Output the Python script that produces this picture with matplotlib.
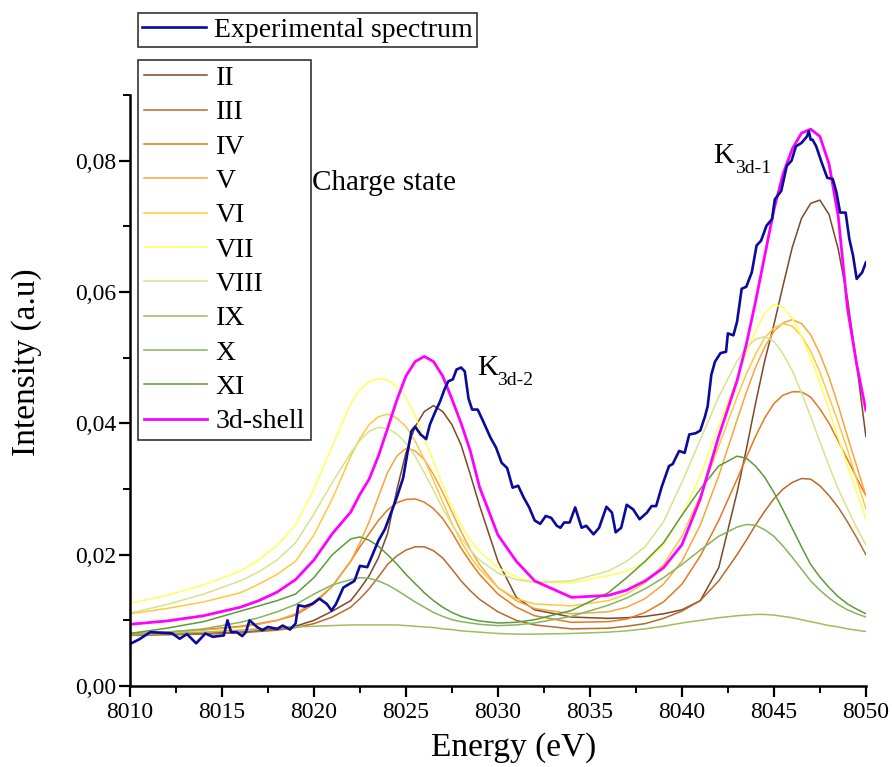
import matplotlib
matplotlib.use('Agg')
import matplotlib.pyplot as plt
from matplotlib.ticker import MultipleLocator, FuncFormatter

plt.rcParams['font.family'] = ['Liberation Serif', 'DejaVu Serif']

# energy grid used for the fitted charge-state curves (eV)
energy = [8010, 8012, 8014, 8016, 8017, 8018, 8019, 8020, 8021, 8022, 8022.5, 8023, 8023.5,
          8024, 8024.5, 8025, 8025.5, 8026, 8026.5, 8027, 8027.5, 8028, 8028.5, 8029, 8030,
          8031, 8032, 8034, 8036, 8037, 8038, 8039, 8040, 8041, 8042, 8043, 8043.5, 8044,
          8044.5, 8045, 8045.5, 8046, 8046.5, 8047, 8047.5, 8048, 8048.5, 8049, 8049.5, 8050]

cs_II = [0.0078, 0.0079, 0.0080, 0.0082, 0.0084, 0.0087, 0.0091, 0.0100, 0.0114, 0.0130, 0.0148, 0.0168, 0.0195,
         0.0232, 0.0298, 0.0355, 0.0395, 0.0418, 0.0427, 0.0418, 0.0398, 0.0367, 0.0322, 0.0275, 0.0190,
         0.0135, 0.0116, 0.0105, 0.0103, 0.0104, 0.0106, 0.0110, 0.0116, 0.0130, 0.0180, 0.0295, 0.0360, 0.0430,
         0.0495, 0.0550, 0.0610, 0.0668, 0.0712, 0.0735, 0.0740, 0.0718, 0.0665, 0.0590, 0.0490, 0.0380]
cs_III = [0.0077, 0.0078, 0.0079, 0.0081, 0.0083, 0.0085, 0.0089, 0.0095, 0.0105, 0.0120, 0.0133, 0.0148, 0.0166,
          0.0185, 0.0198, 0.0207, 0.0212, 0.0212, 0.0206, 0.0195, 0.0178, 0.0160, 0.0145, 0.0132, 0.0113,
          0.0100, 0.0093, 0.0087, 0.0088, 0.0091, 0.0095, 0.0103, 0.0114, 0.0130, 0.0160, 0.0200, 0.0222, 0.0245,
          0.0266, 0.0285, 0.0300, 0.0310, 0.0316, 0.0315, 0.0305, 0.0290, 0.0272, 0.0250, 0.0226, 0.0200]
cs_IV = [0.0079, 0.0082, 0.0086, 0.0091, 0.0095, 0.0100, 0.0108, 0.0125, 0.0152, 0.0190, 0.0212, 0.0232, 0.0252,
         0.0268, 0.0279, 0.0284, 0.0285, 0.0280, 0.0270, 0.0255, 0.0234, 0.0210, 0.0189, 0.0170, 0.0140,
         0.0120, 0.0107, 0.0097, 0.0098, 0.0102, 0.0112, 0.0128, 0.0155, 0.0198, 0.0252, 0.0315, 0.0348, 0.0380,
         0.0408, 0.0430, 0.0443, 0.0448, 0.0448, 0.0440, 0.0422, 0.0400, 0.0373, 0.0345, 0.0317, 0.0290]
cs_V = [0.0080, 0.0082, 0.0085, 0.0090, 0.0094, 0.0100, 0.0110, 0.0128, 0.0152, 0.0190, 0.0218, 0.0250, 0.0288,
        0.0325, 0.0350, 0.0362, 0.0358, 0.0345, 0.0322, 0.0295, 0.0265, 0.0235, 0.0208, 0.0185, 0.0150,
        0.0130, 0.0118, 0.0110, 0.0113, 0.0120, 0.0133, 0.0155, 0.0190, 0.0245, 0.0320, 0.0405, 0.0447, 0.0485,
        0.0516, 0.0540, 0.0553, 0.0558, 0.0552, 0.0535, 0.0506, 0.0470, 0.0427, 0.0380, 0.0335, 0.0290]
cs_VI = [0.0110, 0.0118, 0.0128, 0.0142, 0.0155, 0.0170, 0.0190, 0.0230, 0.0285, 0.0350, 0.0377, 0.0398, 0.0410,
         0.0414, 0.0408, 0.0395, 0.0373, 0.0345, 0.0313, 0.0280, 0.0248, 0.0220, 0.0197, 0.0178, 0.0150,
         0.0133, 0.0125, 0.0122, 0.0130, 0.0140, 0.0157, 0.0185, 0.0228, 0.0290, 0.0365, 0.0440, 0.0475, 0.0505,
         0.0530, 0.0545, 0.0552, 0.0548, 0.0533, 0.0510, 0.0478, 0.0440, 0.0401, 0.0360, 0.0315, 0.0270]
cs_VII = [0.0126, 0.0138, 0.0154, 0.0175, 0.0192, 0.0215, 0.0245, 0.0300, 0.0365, 0.0430, 0.0452, 0.0463, 0.0468,
          0.0466, 0.0456, 0.0440, 0.0412, 0.0376, 0.0342, 0.0305, 0.0272, 0.0245, 0.0222, 0.0205, 0.0180,
          0.0166, 0.0158, 0.0157, 0.0168, 0.0175, 0.0188, 0.0215, 0.0260, 0.0320, 0.0395, 0.0470, 0.0507, 0.0540,
          0.0568, 0.0581, 0.0577, 0.0560, 0.0533, 0.0500, 0.0462, 0.0420, 0.0378, 0.0335, 0.0295, 0.0255]
cs_VIII = [0.0111, 0.0124, 0.0140, 0.0160, 0.0174, 0.0192, 0.0218, 0.0262, 0.0310, 0.0355, 0.0374, 0.0388, 0.0394,
           0.0392, 0.0384, 0.0370, 0.0350, 0.0325, 0.0298, 0.0270, 0.0246, 0.0225, 0.0207, 0.0192, 0.0172,
           0.0162, 0.0158, 0.0160, 0.0175, 0.0190, 0.0212, 0.0250, 0.0310, 0.0375, 0.0440, 0.0495, 0.0515, 0.0528,
           0.0532, 0.0525, 0.0506, 0.0480, 0.0447, 0.0410, 0.0372, 0.0335, 0.0300, 0.0270, 0.0241, 0.0215]
cs_IX = [0.0078, 0.0080, 0.0082, 0.0085, 0.0087, 0.0088, 0.0090, 0.0091, 0.0092, 0.0093, 0.0093, 0.0093, 0.0093,
         0.0093, 0.0093, 0.0092, 0.0091, 0.0090, 0.0089, 0.0087, 0.0086, 0.0084, 0.0083, 0.0082, 0.0080,
         0.0079, 0.0079, 0.0080, 0.0082, 0.0084, 0.0087, 0.0091, 0.0096, 0.0100, 0.0104, 0.0107, 0.0108, 0.0109,
         0.0109, 0.0108, 0.0106, 0.0104, 0.0101, 0.0098, 0.0095, 0.0092, 0.0090, 0.0087, 0.0085, 0.0083]
cs_X = [0.0078, 0.0082, 0.0087, 0.0097, 0.0104, 0.0113, 0.0124, 0.0140, 0.0154, 0.0162, 0.0165, 0.0164, 0.0160,
        0.0154, 0.0146, 0.0137, 0.0128, 0.0120, 0.0112, 0.0106, 0.0101, 0.0098, 0.0096, 0.0094, 0.0092,
        0.0093, 0.0096, 0.0106, 0.0123, 0.0134, 0.0148, 0.0165, 0.0185, 0.0207, 0.0228, 0.0242, 0.0246, 0.0245,
        0.0238, 0.0228, 0.0213, 0.0196, 0.0178, 0.0160, 0.0146, 0.0134, 0.0124, 0.0116, 0.0110, 0.0105]
cs_XI = [0.0080, 0.0088, 0.0098, 0.0114, 0.0122, 0.0130, 0.0140, 0.0165, 0.0200, 0.0224, 0.0227, 0.0222, 0.0213,
         0.0200, 0.0186, 0.0170, 0.0156, 0.0142, 0.0130, 0.0120, 0.0112, 0.0106, 0.0102, 0.0099, 0.0096,
         0.0097, 0.0101, 0.0115, 0.0142, 0.0165, 0.0190, 0.0218, 0.0260, 0.0300, 0.0335, 0.0350, 0.0347, 0.0335,
         0.0318, 0.0295, 0.0268, 0.0240, 0.0212, 0.0185, 0.0166, 0.0150, 0.0136, 0.0125, 0.0117, 0.0110]
shell_3d = [0.0094, 0.0099, 0.0107, 0.0120, 0.0130, 0.0143, 0.0162, 0.0192, 0.0232, 0.0265, 0.0292, 0.0315, 0.0350,
            0.0392, 0.0435, 0.0472, 0.0494, 0.0502, 0.0494, 0.0472, 0.0437, 0.0400, 0.0358, 0.0303, 0.0230,
            0.0190, 0.0160, 0.0135, 0.0138, 0.0146, 0.0160, 0.0180, 0.0215, 0.0285, 0.0380, 0.0465, 0.0520, 0.0585,
            0.0655, 0.0725, 0.0780, 0.0818, 0.0842, 0.0848, 0.0837, 0.0795, 0.0715, 0.0575, 0.0490, 0.0420]

# experimental spectrum
exp_E = [8010.0, 8010.5, 8011.1, 8011.8, 8012.3, 8012.7, 8013.1, 8013.6, 8014.1, 8014.5, 8015.1, 8015.3,
         8015.5, 8015.8, 8016.1, 8016.3, 8016.5, 8016.9, 8017.2, 8017.5, 8018.0, 8018.3, 8018.7, 8019.0,
         8019.15, 8019.5, 8019.9, 8020.3, 8020.7, 8020.96, 8021.2, 8021.6, 8021.96, 8022.2, 8022.5, 8022.9,
         8023.5, 8023.86, 8024.5, 8024.85, 8025.1, 8025.3, 8025.5, 8025.8, 8026.1, 8026.3, 8026.6, 8026.85,
         8027.1, 8027.3, 8027.55, 8027.75, 8028.0, 8028.2, 8028.4, 8028.6, 8028.9, 8029.2, 8029.6, 8029.9,
         8030.2, 8030.5, 8030.8, 8031.1, 8031.4, 8031.7, 8032.0, 8032.3, 8032.6, 8032.9, 8033.2, 8033.4,
         8033.6, 8033.9, 8034.2, 8034.55, 8034.8, 8035.2, 8035.5, 8035.9, 8036.2, 8036.4, 8036.7, 8037.0,
         8037.35, 8037.7, 8038.1, 8038.35, 8038.6, 8038.9, 8039.3, 8039.5, 8039.85, 8040.15, 8040.4, 8040.75,
         8041.0, 8041.25, 8041.4, 8041.6, 8041.8, 8042.1, 8042.4, 8042.5, 8042.8, 8043.0, 8043.25, 8043.5,
         8043.8, 8044.06, 8044.3, 8044.6, 8044.9, 8045.05, 8045.4, 8045.7, 8045.96, 8046.2, 8046.5, 8046.8,
         8046.9, 8047.0, 8047.1, 8047.3, 8047.6, 8047.9, 8048.2, 8048.4, 8048.6, 8048.9, 8049.1, 8049.3,
         8049.5, 8049.8, 8050.0]
exp_I = [0.0064, 0.0071, 0.0082, 0.0081, 0.0080, 0.0072, 0.0079, 0.0065, 0.0080, 0.0075, 0.0077, 0.0100,
         0.0082, 0.0082, 0.0076, 0.0082, 0.0100, 0.0090, 0.0085, 0.0090, 0.0087, 0.0092, 0.0086, 0.0095,
         0.0123, 0.0121, 0.0125, 0.0133, 0.0125, 0.0115, 0.0125, 0.0150, 0.0156, 0.0160, 0.0183, 0.0181,
         0.0221, 0.0239, 0.0287, 0.0317, 0.0358, 0.0388, 0.0395, 0.0383, 0.0376, 0.0398, 0.0418, 0.0433,
         0.0452, 0.0464, 0.0467, 0.0482, 0.0485, 0.0479, 0.0438, 0.0421, 0.0421, 0.0403, 0.0378, 0.0363,
         0.0340, 0.0332, 0.0302, 0.0305, 0.0287, 0.0272, 0.0252, 0.0247, 0.0259, 0.0256, 0.0244, 0.0241,
         0.0249, 0.0249, 0.0272, 0.0241, 0.0244, 0.0231, 0.0241, 0.0273, 0.0264, 0.0234, 0.0241, 0.0276,
         0.0269, 0.0254, 0.0264, 0.0274, 0.0274, 0.0303, 0.0335, 0.0338, 0.0358, 0.0355, 0.0383, 0.0385,
         0.0389, 0.0410, 0.0426, 0.0474, 0.0494, 0.0507, 0.0509, 0.0537, 0.0534, 0.0555, 0.0605, 0.0608,
         0.0630, 0.0671, 0.0678, 0.0701, 0.0711, 0.0741, 0.0754, 0.0792, 0.0800, 0.0822, 0.0827, 0.0837,
         0.0845, 0.0832, 0.0832, 0.0822, 0.0797, 0.0774, 0.0772, 0.0752, 0.0721, 0.0721, 0.0681, 0.0656,
         0.0620, 0.0630, 0.0645]

labels = ['II', 'III', 'IV', 'V', 'VI', 'VII', 'VIII', 'IX', 'X', 'XI']
curves = [cs_II, cs_III, cs_IV, cs_V, cs_VI, cs_VII, cs_VIII, cs_IX, cs_X, cs_XI]
colors = ['#7a4a26', '#b86a2c', '#e8771e', '#f9a53c', '#ffc840', '#ffff5a',
          '#d6e38e', '#9cbf5a', '#86b560', '#5c9a3a']

fig = plt.figure(figsize=(8.92, 7.67), dpi=100)
ax = fig.add_axes([0.1457, 0.1056, 0.825, 0.7705])

handles = []
for c, lab, col in zip(curves, labels, colors):
    h, = ax.plot(energy, c, color=col, lw=1.1, label=lab)
    handles.append(h)
h_shell, = ax.plot(energy, shell_3d, color='#ff00ff', lw=2.0, label='3d-shell')
handles.append(h_shell)
h_exp, = ax.plot(exp_E, exp_I, color='#0a0a9c', lw=1.9, label='Experimental spectrum')

ax.set_xlim(8010, 8050)
ax.set_ylim(0, 0.09)
ax.xaxis.set_major_locator(MultipleLocator(5))
ax.xaxis.set_minor_locator(MultipleLocator(2.5))
ax.yaxis.set_major_locator(MultipleLocator(0.02))
ax.yaxis.set_minor_locator(MultipleLocator(0.01))
ax.yaxis.set_major_formatter(FuncFormatter(lambda v, p: ('%.2f' % v).replace('.', ',')))
ax.xaxis.set_major_formatter(FuncFormatter(lambda v, p: '%d' % v))

for s in ['top', 'right']:
    ax.spines[s].set_visible(False)
for s in ['left', 'bottom']:
    ax.spines[s].set_linewidth(1.8)
ax.tick_params(which='major', direction='out', length=8, width=1.6, labelsize=17,
               labelfontfamily='Liberation Serif')
ax.tick_params(axis='y', which='major', pad=2)
ax.tick_params(which='minor', direction='out', length=5, width=1.4)

ax.set_xlabel('Energy (eV)', fontsize=24)
ax.set_ylabel('Intensity (a.u)', fontsize=24)
ax.xaxis.set_label_coords(0.522, -0.078)
ax.yaxis.set_label_coords(-0.12, 0.548)

ax.text(8019.9, 0.0756, 'Charge state', fontsize=21)
ax.text(8028.86, 0.0474, 'K', fontsize=21)
ax.text(8029.95, 0.0459, '3d-2', fontsize=14)
ax.text(8041.68, 0.0797, 'K', fontsize=21)
ax.text(8042.88, 0.0782, '3d-1', fontsize=14)

leg1 = fig.legend(handles=[h_exp], loc='upper left', bbox_to_anchor=(0.1547, 0.983),
                  fontsize=20, frameon=True, fancybox=False, edgecolor='black',
                  handlelength=2.3, handletextpad=0.3, borderpad=0.15, borderaxespad=0)
leg1.get_frame().set_linewidth(1.2)
leg2 = fig.legend(handles=handles, loc='upper left', bbox_to_anchor=(0.1547, 0.9218),
                  fontsize=20, frameon=True, fancybox=False, edgecolor='black',
                  handlelength=2.3, handletextpad=0.3, borderpad=0.2, labelspacing=0.32,
                  borderaxespad=0)
leg2.get_frame().set_linewidth(1.2)

fig.savefig('out.png', dpi=100)
